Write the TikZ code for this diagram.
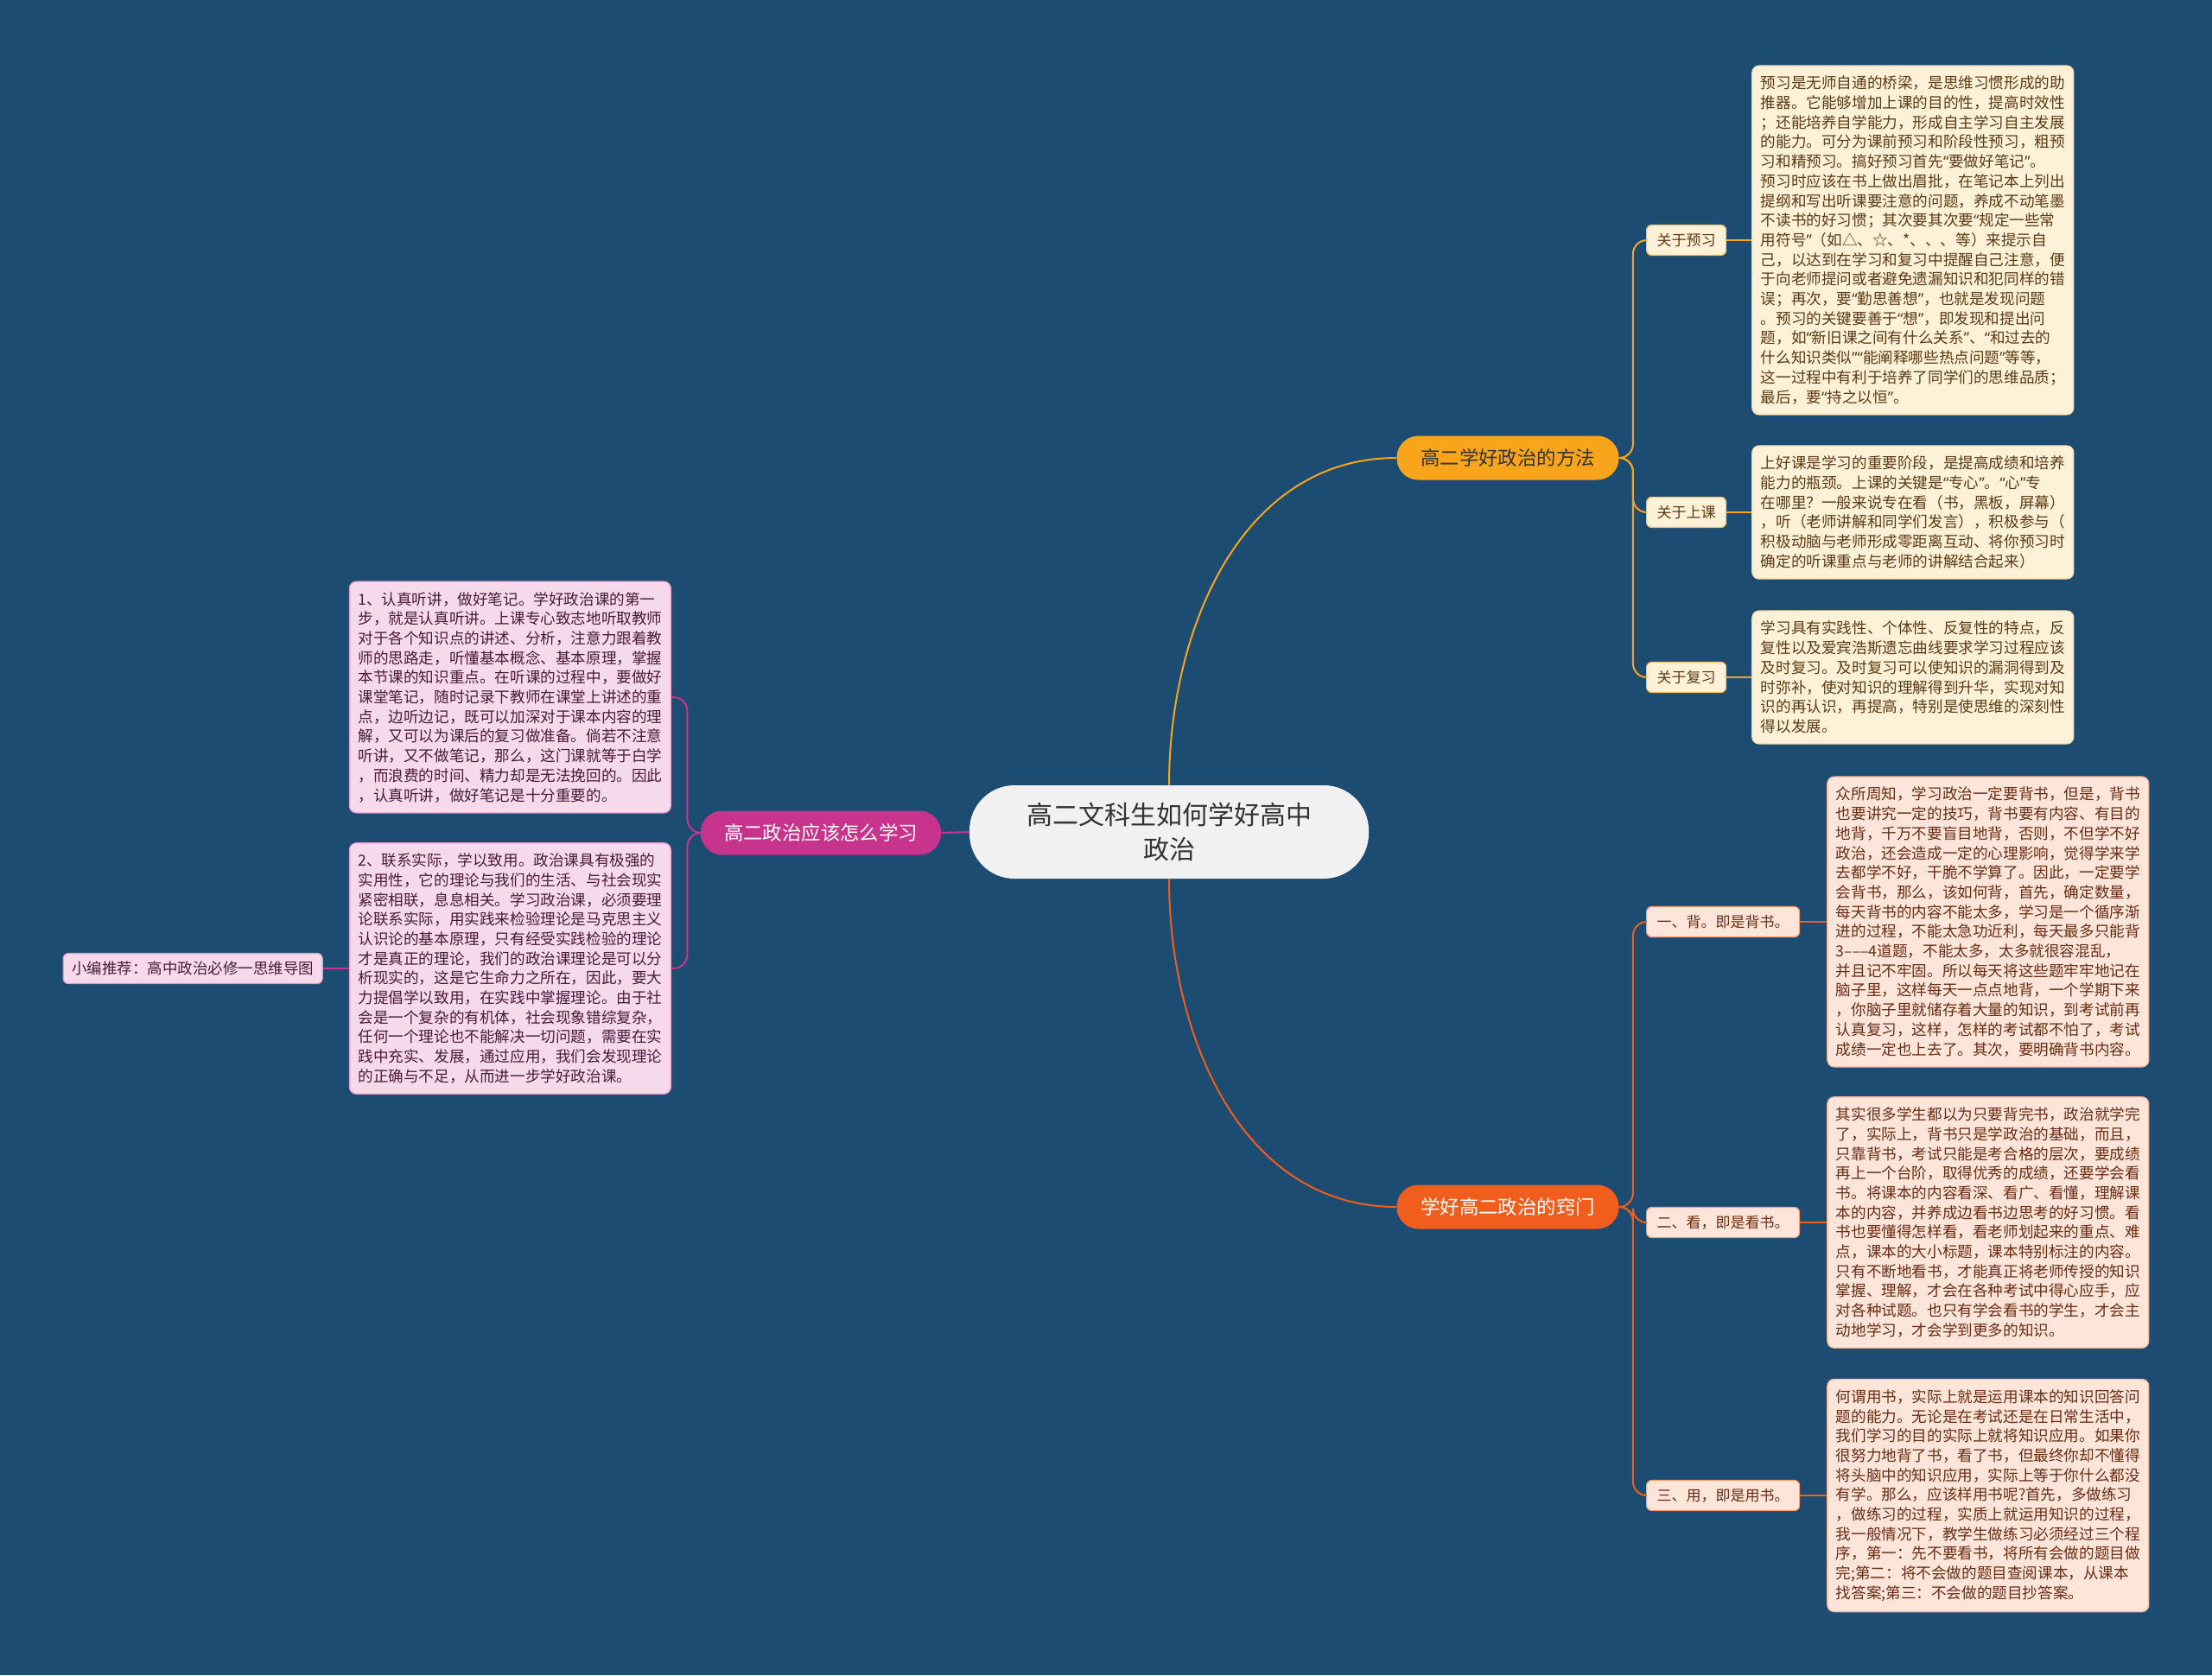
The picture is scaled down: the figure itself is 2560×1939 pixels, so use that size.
\documentclass[tikz,border=0pt]{standalone}
\usepackage{fontspec}
\setmainfont{Noto Sans CJK SC}
\newfontfamily\quotefont{Noto Sans}
\newcommand{\zlq}{{\quotefont “}}
\newcommand{\zrq}{{\quotefont ”}}
\usetikzlibrary{
  arrows.meta,
  positioning,
  calc
}
\usepackage{xcolor}
\definecolor{mapbg}{HTML}{1D4C72}
\definecolor{rootfill}{HTML}{F1F1F1}
\definecolor{mtorange}{HTML}{F8A51C}
\definecolor{tpred}{HTML}{F15D1C}
\definecolor{hwpink}{HTML}{C8338E}
\definecolor{mtfill}{HTML}{FDF1D8}
\definecolor{tpfill}{HTML}{FDE5DA}
\definecolor{hwfill}{HTML}{F6DAEC}
\definecolor{mttext}{HTML}{5C3B14}
\definecolor{tptext}{HTML}{6A2C12}
\definecolor{hwtext}{HTML}{4A1A3A}

\begin{document}
\begin{tikzpicture}[
  x=0.5pt, y=-0.5pt,
  node distance=14.5pt,
  root/.style={fill=rootfill, rounded corners=26pt, minimum height=54pt,
    inner xsep=33pt, font=\fontsize{15}{19.6}\selectfont, text=black!80, align=center},
  branch/.style={rounded corners=12.5pt, minimum height=25.5pt, inner xsep=13.6pt,
    font=\fontsize{11.2}{13}\selectfont},
  sublabel/.style={rounded corners=3pt, minimum height=17.5pt, inner xsep=6pt,
    font=\fontsize{8.5}{10}\selectfont, line width=0.6pt},
  textbox/.style={rounded corners=4pt, text width=176pt, inner xsep=5pt, inner ysep=6pt,
    align=left, font=\fontsize{8.8}{11.35}\selectfont, line width=0.6pt},
  mtline/.style={draw=mtorange, line width=1pt, rounded corners=8pt},
  tpline/.style={draw=tpred, line width=1pt, rounded corners=8pt},
  hwline/.style={draw=hwpink, line width=1pt, rounded corners=8pt}
]

  \fill[mapbg] (0,0) rectangle (2560,1939);
  \useasboundingbox (0,0) rectangle (2560,1939);

  % Centre and main branches
  \node[root] (root) at (1353,963) {高二文科生如何学好高中\\政治};
  \node[branch, fill=mtorange, text=black!80, minimum width=128.5pt] (method) at (1745,530) {高二学好政治的方法};
  \node[branch, fill=tpred, text=white, minimum width=128.5pt] (tips) at (1745,1397) {学好高二政治的窍门};
  \node[branch, fill=hwpink, text=white] (howto) at (950,964) {高二政治应该怎么学习};

  % Method: labels and notes
  \node[sublabel, draw=mtorange!70, fill=mtfill, text=mttext, anchor=west] (preview) at (1905,278) {关于预习};
  \node[sublabel, draw=mtorange!70, fill=mtfill, text=mttext, anchor=west] (lecture) at (1905,593) {关于上课};
  \node[sublabel, draw=mtorange!70, fill=mtfill, text=mttext, anchor=west] (review) at (1905,784) {关于复习};

  \node[textbox, draw=mtorange!40, fill=mtfill, text=mttext, right=of preview] (previewnote) {预习是无师自通的桥梁，是思维习惯形成的助\\
推器。它能够增加上课的目的性，提高时效性\\
；还能培养自学能力，形成自主学习自主发展\\
的能力。可分为课前预习和阶段性预习，粗预\\
习和精预习。搞好预习首先\zlq 要做好笔记\zrq 。\\
预习时应该在书上做出眉批，在笔记本上列出\\
提纲和写出听课要注意的问题，养成不动笔墨\\
不读书的好习惯；其次要其次要\zlq 规定一些常\\
用符号\zrq （如△、☆、*、、、等）来提示自\\
己，以达到在学习和复习中提醒自己注意，便\\
于向老师提问或者避免遗漏知识和犯同样的错\\
误；再次，要\zlq 勤思善想\zrq ，也就是发现问题\\
。预习的关键要善于\zlq 想\zrq ，即发现和提出问\\
题，如\zlq 新旧课之间有什么关系\zrq 、\zlq 和过去的\\
什么知识类似\zrq\zlq 能阐释哪些热点问题\zrq 等等，\\
这一过程中有利于培养了同学们的思维品质；\\
最后，要\zlq 持之以恒\zrq 。};
  \node[textbox, draw=mtorange!40, fill=mtfill, text=mttext, right=of lecture] (lecturenote) {上好课是学习的重要阶段，是提高成绩和培养\\
能力的瓶颈。上课的关键是\zlq 专心\zrq 。\zlq 心\zrq 专\\
在哪里？一般来说专在看（书，黑板，屏幕）\\
，听（老师讲解和同学们发言），积极参与（\\
积极动脑与老师形成零距离互动、将你预习时\\
确定的听课重点与老师的讲解结合起来）};
  \node[textbox, draw=mtorange!40, fill=mtfill, text=mttext, right=of review] (reviewnote) {学习具有实践性、个体性、反复性的特点，反\\
复性以及爱宾浩斯遗忘曲线要求学习过程应该\\
及时复习。及时复习可以使知识的漏洞得到及\\
时弥补，使对知识的理解得到升华，实现对知\\
识的再认识，再提高，特别是使思维的深刻性\\
得以发展。};

  % Tips: labels and notes
  \node[sublabel, draw=tpred!60, fill=tpfill, text=tptext, anchor=west] (recite) at (1905,1067) {一、背。即是背书。};
  \node[sublabel, draw=tpred!60, fill=tpfill, text=tptext, anchor=west] (read) at (1905,1415) {二、看，即是看书。};
  \node[sublabel, draw=tpred!60, fill=tpfill, text=tptext, anchor=west] (apply) at (1905,1731) {三、用，即是用书。};

  \node[textbox, draw=tpred!45, fill=tpfill, text=tptext, right=15.5pt of recite] (recitenote) {众所周知，学习政治一定要背书，但是，背书\\
也要讲究一定的技巧，背书要有内容、有目的\\
地背，千万不要盲目地背，否则，不但学不好\\
政治，还会造成一定的心理影响，觉得学来学\\
去都学不好，干脆不学算了。因此，一定要学\\
会背书，那么，该如何背，首先，确定数量，\\
每天背书的内容不能太多，学习是一个循序渐\\
进的过程，不能太急功近利，每天最多只能背\\
3–––4道题，不能太多，太多就很容混乱，\\
并且记不牢固。所以每天将这些题牢牢地记在\\
脑子里，这样每天一点点地背，一个学期下来\\
，你脑子里就储存着大量的知识，到考试前再\\
认真复习，这样，怎样的考试都不怕了，考试\\
成绩一定也上去了。其次，要明确背书内容。};
  \node[textbox, draw=tpred!45, fill=tpfill, text=tptext, right=15.5pt of read] (readnote) {其实很多学生都以为只要背完书，政治就学完\\
了，实际上，背书只是学政治的基础，而且，\\
只靠背书，考试只能是考合格的层次，要成绩\\
再上一个台阶，取得优秀的成绩，还要学会看\\
书。将课本的内容看深、看广、看懂，理解课\\
本的内容，并养成边看书边思考的好习惯。看\\
书也要懂得怎样看，看老师划起来的重点、难\\
点，课本的大小标题，课本特别标注的内容。\\
只有不断地看书，才能真正将老师传授的知识\\
掌握、理解，才会在各种考试中得心应手，应\\
对各种试题。也只有学会看书的学生，才会主\\
动地学习，才会学到更多的知识。};
  \node[textbox, draw=tpred!45, fill=tpfill, text=tptext, right=15.5pt of apply] (applynote) {何谓用书，实际上就是运用课本的知识回答问\\
题的能力。无论是在考试还是在日常生活中，\\
我们学习的目的实际上就将知识应用。如果你\\
很努力地背了书，看了书，但最终你却不懂得\\
将头脑中的知识应用，实际上等于你什么都没\\
有学。那么，应该样用书呢?首先，多做练习\\
，做练习的过程，实质上就运用知识的过程，\\
我一般情况下，教学生做练习必须经过三个程\\
序，第一：先不要看书，将所有会做的题目做\\
完;第二：将不会做的题目查阅课本，从课本\\
找答案;第三：不会做的题目抄答案。};

  % How to study: notes on the left
  \node[textbox, draw=hwpink!50, fill=hwfill, text=hwtext, anchor=east] (listen) at (777,807) {1、认真听讲，做好笔记。学好政治课的第一\\
步，就是认真听讲。上课专心致志地听取教师\\
对于各个知识点的讲述、分析，注意力跟着教\\
师的思路走，听懂基本概念、基本原理，掌握\\
本节课的知识重点。在听课的过程中，要做好\\
课堂笔记，随时记录下教师在课堂上讲述的重\\
点，边听边记，既可以加深对于课本内容的理\\
解，又可以为课后的复习做准备。倘若不注意\\
听讲，又不做笔记，那么，这门课就等于白学\\
，而浪费的时间、精力却是无法挽回的。因此\\
，认真听讲，做好笔记是十分重要的。};
  \node[textbox, draw=hwpink!50, fill=hwfill, text=hwtext, anchor=east] (practice) at (777,1121) {2、联系实际，学以致用。政治课具有极强的\\
实用性，它的理论与我们的生活、与社会现实\\
紧密相联，息息相关。学习政治课，必须要理\\
论联系实际，用实践来检验理论是马克思主义\\
认识论的基本原理，只有经受实践检验的理论\\
才是真正的理论，我们的政治课理论是可以分\\
析现实的，这是它生命力之所在，因此，要大\\
力提倡学以致用，在实践中掌握理论。由于社\\
会是一个复杂的有机体，社会现象错综复杂，\\
任何一个理论也不能解决一切问题，需要在实\\
践中充实、发展，通过应用，我们会发现理论\\
的正确与不足，从而进一步学好政治课。};
  \node[sublabel, draw=hwpink!50, fill=hwfill, text=hwtext, inner xsep=5pt,
    font=\fontsize{8.75}{10}\selectfont, left=15pt of practice] (recommend) {小编推荐：高中政治必修一思维导图};

  % Connectors
  \draw[mtline] (root.north) to[out=90, in=180] (method.west);
  \draw[tpline] (root.south) to[out=-90, in=180] (tips.west);
  \draw[hwline] (root.west) -- (howto.east);

  \draw[mtline] (method.east) -- ++(16,0) |- (preview.west);
  \draw[mtline] (method.east) -- ++(16,0) |- (lecture.west);
  \draw[mtline] (method.east) -- ++(16,0) |- (review.west);
  \draw[mtline] (preview) -- (previewnote);
  \draw[mtline] (lecture) -- (lecturenote);
  \draw[mtline] (review) -- (reviewnote);

  \draw[tpline] (tips.east) -- ++(16,0) |- (recite.west);
  \draw[tpline] (tips.east) -- ++(16,0) |- (read.west);
  \draw[tpline] (tips.east) -- ++(16,0) |- (apply.west);
  \draw[tpline] (recite) -- (recitenote);
  \draw[tpline] (read) -- (readnote);
  \draw[tpline] (apply) -- (applynote);

  \draw[hwline] (howto.west) -- ++(-15,0) |- (listen.east);
  \draw[hwline] (howto.west) -- ++(-15,0) |- (practice.east);
  \draw[hwline] (practice) -- (recommend);

\end{tikzpicture}
\end{document}
